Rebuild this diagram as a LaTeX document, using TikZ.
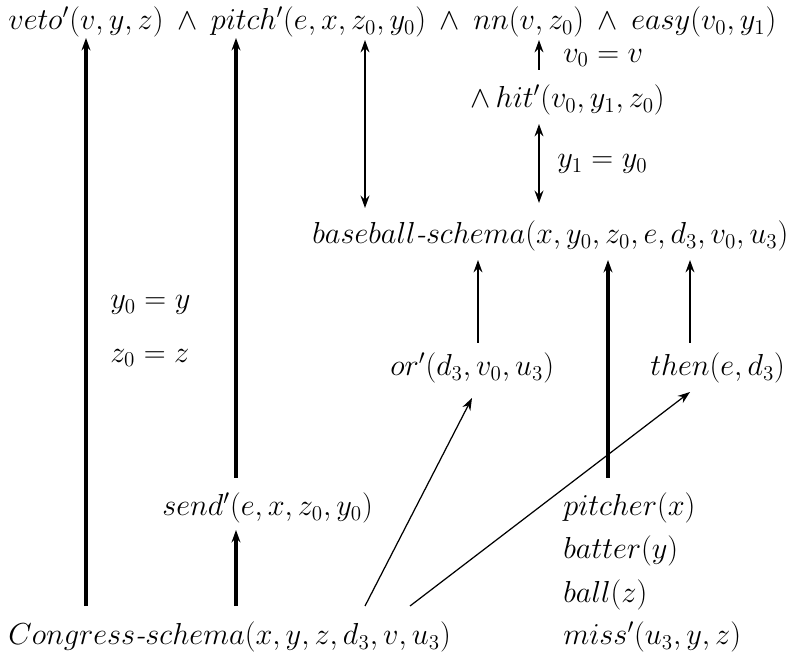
\documentclass[tikz,border=0pt]{standalone}
\usetikzlibrary{arrows.meta}
\usetikzlibrary{positioning}
\usepackage{amsmath}

\begin{document}
\begin{tikzpicture}[
    x=0.02cm, y=-0.02cm,
    term/.style={inner sep=0pt, anchor=west, font=\fontsize{16.8}{20}\selectfont},
    heavy/.style={line width=1.9pt, -{Stealth[length=7pt, width=5pt]}},
    light/.style={line width=1.1pt, -{Stealth[length=7pt, width=5pt]}},
    both/.style={line width=1.1pt, {Stealth[length=7pt, width=5pt]}-{Stealth[length=7pt, width=5pt]}},
    slant/.style={line width=0.7pt, -{Stealth[length=7pt, width=5pt]}}
]
\useasboundingbox (0,0) rectangle (787,661);

% --- Top formula ---
\node[term] (top) at (8,22) {$veto'(v,y,z)\mskip4mu\wedge\mskip4mu pitch'(e,x,z_0,y_0)\mskip4mu\wedge\mskip4mu nn(v,z_0)\mskip4mu\wedge\mskip4mu easy(v_0,y_1)$};
\node[term] (hit) at (470,100) {$\wedge\, hit'(v_0,y_1,z_0)$};
\node[term] (vv) at (563,58) {$v_0 = v$};
\node[term] (yy) at (557,164) {$y_1 = y_0$};

% --- Baseball schema ---
\node[term] (base) at (312,236) {$baseball\textit{-}schema(x,y_0,z_0,e,d_3,v_0,u_3)$};
\node[term] (or) at (390,368) {$or'(d_3,v_0,u_3)$};
\node[term] (then) at (650,368) {$then(e,d_3)$};

% --- Left equalities ---
\node[term] (eqy) at (110,305) {$y_0 = y$};
\node[term] (eqz) at (110,358) {$z_0 = z$};

% --- Congress schema ---
\node[term] (send) at (162,508) {$send'(e,x,z_0,y_0)$};
\node[term] (cong) at (8,637) {$Congress\textit{-}schema(x,y,z,d_3,v,u_3)$};
\node[term] (pitcher) at (563,508) {$pitcher(x)$};
\node[term] (batter) at (563,551) {$batter(y)$};
\node[term] (ball) at (563,595) {$ball(z)$};
\node[term] (miss) at (563,637) {$miss'(u_3,y,z)$};

% --- Arrow ends ---
\coordinate (c1) at (86,606);
\coordinate (c2) at (236,606);
\coordinate (c3) at (365,606);
\coordinate (c4) at (410,606);
\coordinate (s1) at (236,478);
\coordinate (s2) at (236,530);
\coordinate (t1) at (86,38);
\coordinate (t2) at (236,38);
\coordinate (t3) at (365,40);
\coordinate (b3) at (365,208);
\coordinate (t4) at (539,40);
\coordinate (h1) at (539,70);
\coordinate (h2) at (539,124);
\coordinate (b4) at (539,203);
\coordinate (o1) at (478,343);
\coordinate (o2) at (478,260);
\coordinate (p1) at (608,478);
\coordinate (p2) at (608,260);
\coordinate (n1) at (690,343);
\coordinate (n2) at (690,260);
\coordinate (o3) at (472,398);
\coordinate (n3) at (690,392);

% --- Connectors ---
\draw[heavy] (c1) -- (t1);
\draw[heavy] (s1) -- (t2);
\draw[heavy] (c2) -- (s2);
\draw[heavy] (p1) -- (p2);
\draw[both] (t3) -- (b3);
\draw[light] (h1) -- (t4);
\draw[both] (h2) -- (b4);
\draw[light] (o1) -- (o2);
\draw[light] (n1) -- (n2);
\draw[slant] (c3) -- (o3);
\draw[slant] (c4) -- (n3);

\end{tikzpicture}
\end{document}
